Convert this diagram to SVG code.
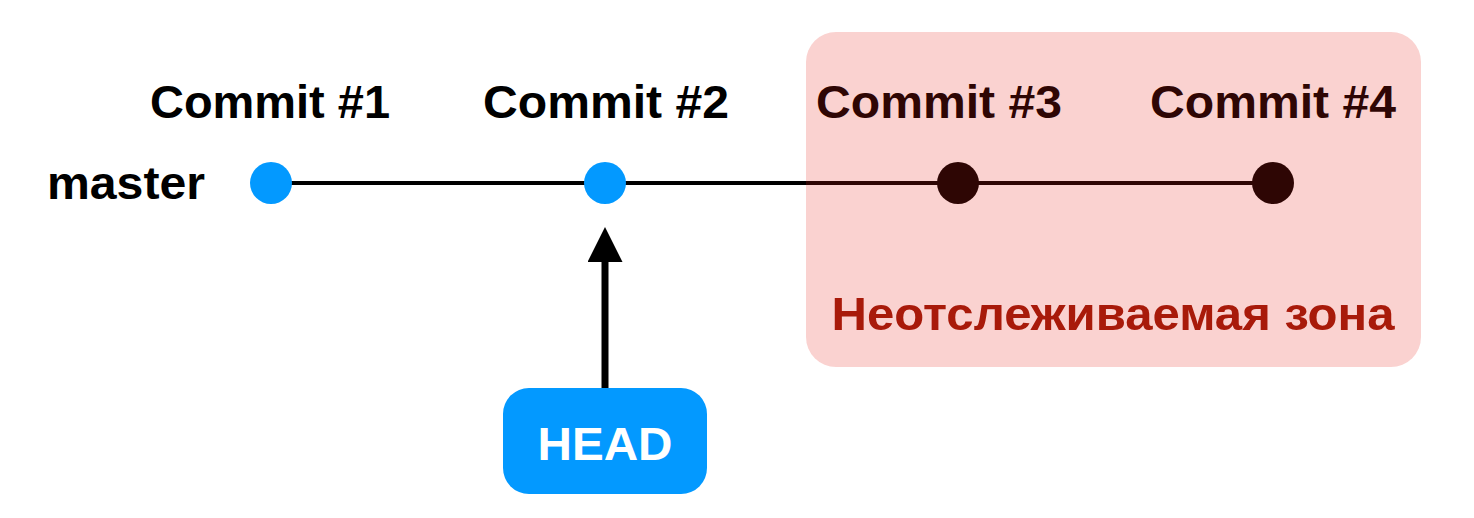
<svg xmlns="http://www.w3.org/2000/svg" width="1474" height="518" viewBox="0 0 1474 518">
<style>
text{font-family:"Liberation Sans",Arial,sans-serif;font-weight:bold;font-size:47px}
.lbl{fill:#000;text-anchor:middle}
.blue{fill:#0399FF}
.blk{fill:#000}
</style>
<defs>
<marker id="ah" markerWidth="5" markerHeight="5" refX="0" refY="2.5" orient="auto" markerUnits="strokeWidth" viewBox="0 0 5 5">
<path d="M0,0 L5,2.5 L0,5 z" fill="#000"/>
</marker>
</defs>
<rect width="1474" height="518" fill="#fff"/>
<g id="connectors">
<line x1="271" y1="183" x2="1273" y2="183" stroke="#000" stroke-width="4"/>
<line id="head-arrow" x1="605" y1="388" x2="605" y2="262" stroke="#000" stroke-width="7" marker-end="url(#ah)"/>
</g>
<text id="master" x="47" y="199" textLength="158" lengthAdjust="spacingAndGlyphs">master</text>
<g id="commit1"><circle class="blue" cx="271" cy="183" r="21"/><text class="lbl" x="270" y="118" textLength="240" lengthAdjust="spacingAndGlyphs">Commit #1</text></g>
<g id="commit2"><circle class="blue" cx="605" cy="183" r="21"/><text class="lbl" x="606" y="118" textLength="246" lengthAdjust="spacingAndGlyphs">Commit #2</text></g>
<g id="commit3"><circle class="blk" cx="958" cy="183" r="21"/><text class="lbl" x="939" y="118" textLength="246" lengthAdjust="spacingAndGlyphs">Commit #3</text></g>
<g id="commit4"><circle class="blk" cx="1273" cy="183" r="21"/><text class="lbl" x="1273" y="118" textLength="246" lengthAdjust="spacingAndGlyphs">Commit #4</text></g>
<g id="untracked">
<rect x="806" y="32" width="615" height="335" rx="30" fill="rgb(230,30,20)" fill-opacity="0.2"/>
<text x="1113" y="330" text-anchor="middle" fill="#A81A0A" textLength="563" lengthAdjust="spacingAndGlyphs">Неотслеживаемая зона</text>
</g>
<g id="head">
<rect x="503" y="388" width="204" height="106" rx="26" fill="#0399FF"/>
<text x="605" y="460" text-anchor="middle" fill="#fff" textLength="135" lengthAdjust="spacingAndGlyphs">HEAD</text>
</g>
</svg>
